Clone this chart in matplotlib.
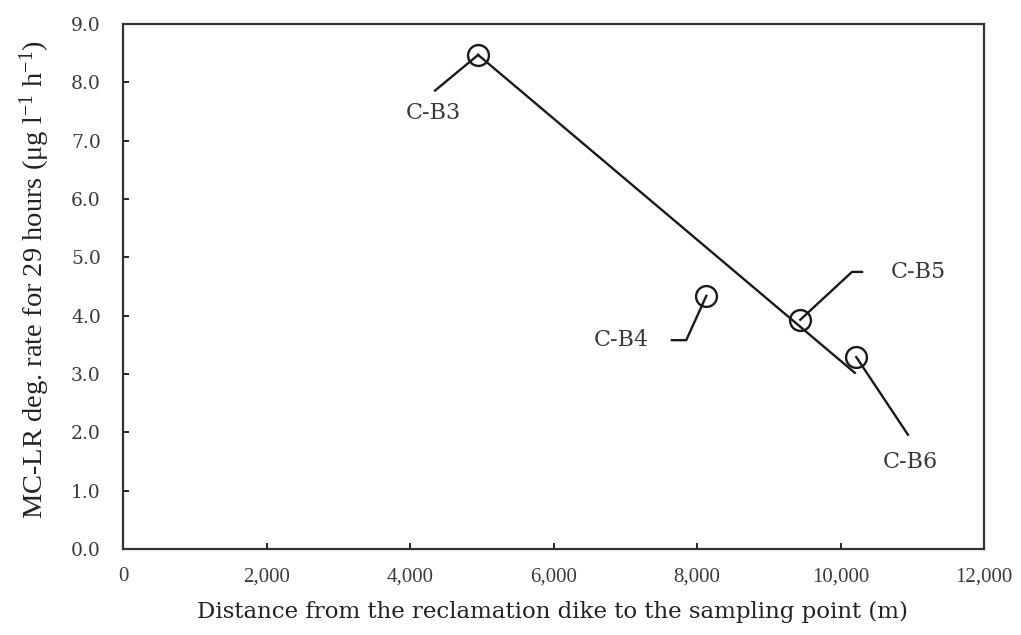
import numpy as np
import matplotlib
matplotlib.use('Agg')
import matplotlib.pyplot as plt

plt.rcParams['font.family'] = ['Liberation Serif', 'DejaVu Serif']
plt.rcParams['mathtext.fontset'] = 'custom'
plt.rcParams['mathtext.rm'] = 'Liberation Serif'
plt.rcParams['mathtext.default'] = 'regular'

# sampling points
labels = ['C-B3', 'C-B4', 'C-B5', 'C-B6']
distance = [4950, 8130, 9440, 10220]
rate = [8.47, 4.34, 3.93, 3.29]

# trend line end points
trend_x = [4950, 10200]
trend_y = [8.47, 3.02]

# leader lines (from point to label) and label positions
leaders = {
    'C-B3': ([4950, 4350], [8.47, 7.86]),
    'C-B4': ([8130, 7850, 7650], [4.34, 3.58, 3.58]),
    'C-B5': ([9440, 10160, 10300], [3.93, 4.75, 4.75]),
    'C-B6': ([10220, 10940], [3.29, 1.96]),
}
label_pos = {
    'C-B3': (4320, 7.48),
    'C-B4': (6950, 3.58),
    'C-B5': (11080, 4.75),
    'C-B6': (10970, 1.49),
}

x_ticks = [0, 2000, 4000, 6000, 8000, 10000, 12000]
y_ticks = [0, 1, 2, 3, 4, 5, 6, 7, 8, 9]

fig = plt.figure(figsize=(10.21, 6.35), dpi=100)
ax = fig.add_axes([123 / 1021, 1 - 549 / 635, (984 - 123) / 1021, (549 - 24) / 635])

ink = '#1a1a1a'
txt = '#3a3a3a'
ax.plot(trend_x, trend_y, color=ink, lw=1.7)
ax.plot(distance, rate, 'o', ms=15, mfc='none', mec=ink, mew=1.7)
for name in labels:
    lx, ly = leaders[name]
    ax.plot(lx, ly, color=ink, lw=1.7)
    tx, ty = label_pos[name]
    ax.text(tx, ty, name, ha='center', va='center', fontsize=16,
            family='DejaVu Serif', color=txt)

ax.set_xlim(0, 12000)
ax.set_ylim(0, 9)
ax.set_xticks(x_ticks)
ax.set_xticklabels([f'{v:,}' for v in x_ticks], fontsize=15, color=txt)
ax.set_yticks(y_ticks)
ax.set_yticklabels([f'{v:.1f}' for v in y_ticks], fontsize=13.5,
                   family='DejaVu Serif', color=txt)
ax.tick_params(direction='in', length=4, width=1.2)
ax.tick_params(axis='x', pad=13)
ax.tick_params(axis='y', pad=16)
for s in ax.spines.values():
    s.set_linewidth(1.6)
    s.set_color('#333333')

fig.text(552 / 1021, 1 - 612 / 635,
         'Distance from the reclamation dike to the sampling point (m)',
         ha='center', va='center', fontsize=16.5, family='DejaVu Serif', color='#222222')
fig.text(35 / 1021, 1 - 280 / 635,
         r'MC-LR deg. rate for 29 hours (μg l$^{-1}$ h$^{-1}$)',
         rotation=90, ha='center', va='center', fontsize=20.5, color='#222222')

fig.savefig('out.png', dpi=100)
